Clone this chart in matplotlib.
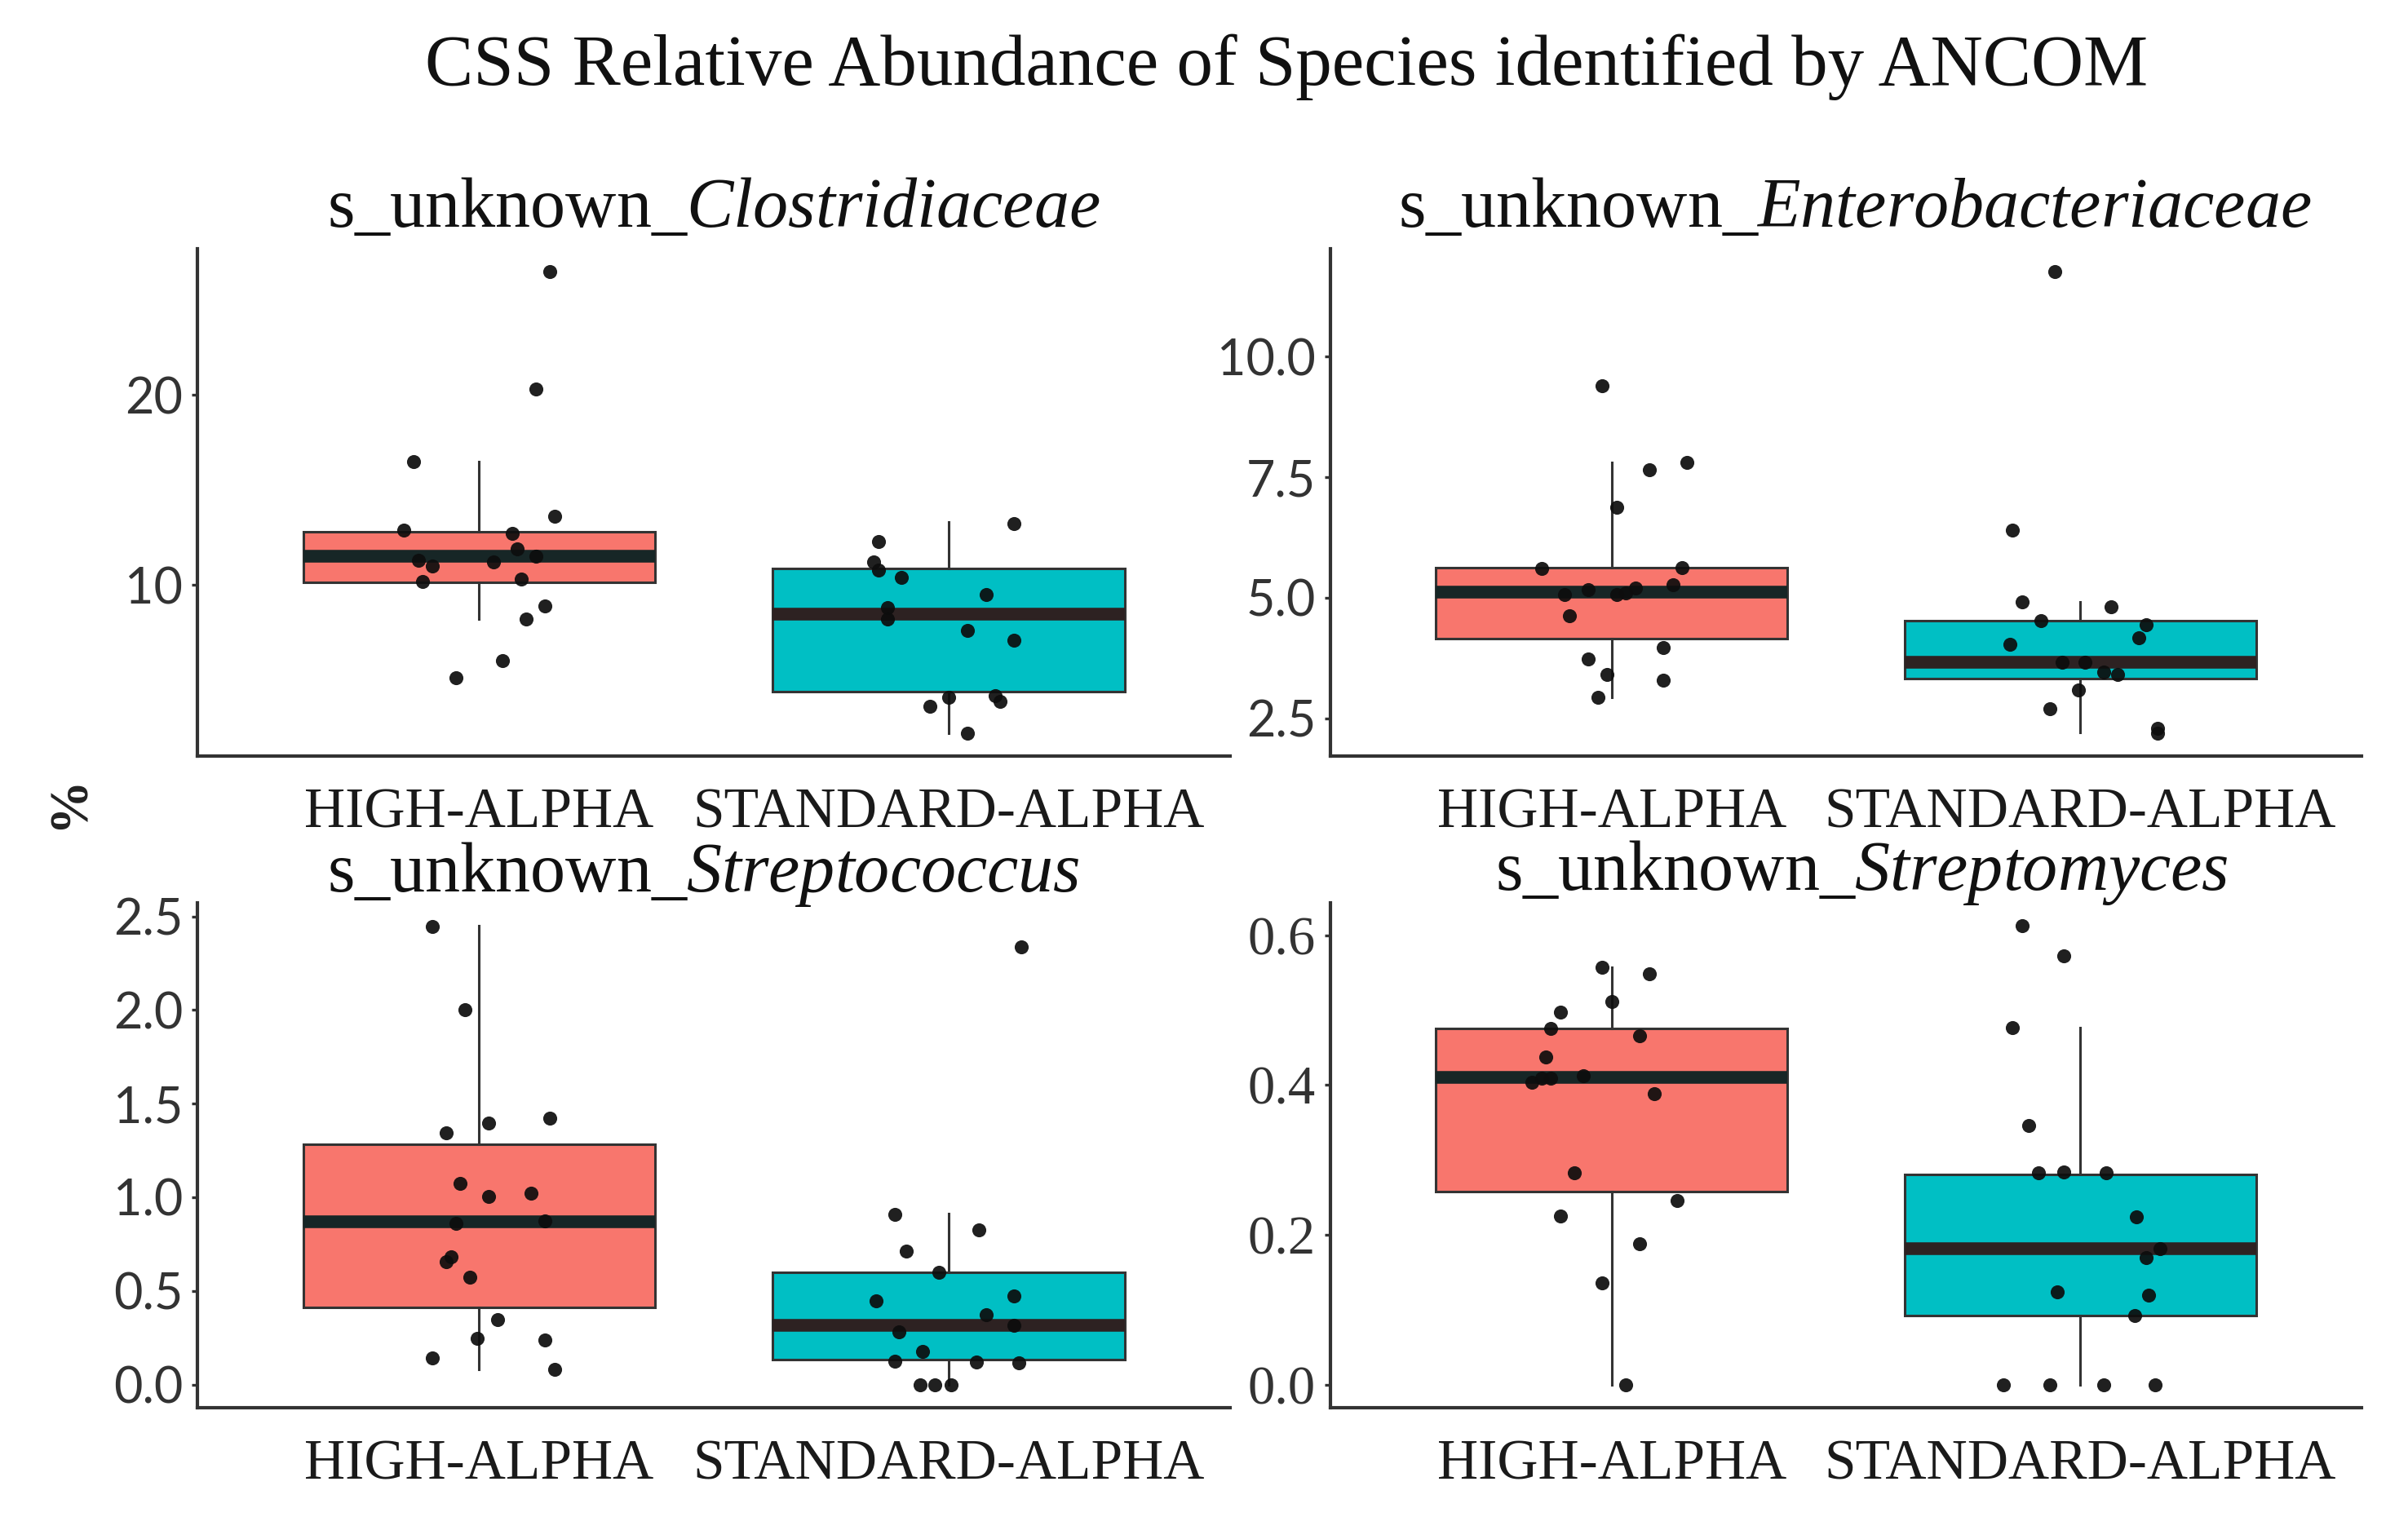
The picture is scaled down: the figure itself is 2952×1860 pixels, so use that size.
import numpy as np
import matplotlib
matplotlib.use("Agg")
import matplotlib.pyplot as plt

plt.rcParams['font.family'] = ['Liberation Serif', 'DejaVu Serif']
plt.rcParams['mathtext.fontset'] = 'custom'
plt.rcParams['mathtext.rm'] = 'Liberation Serif'
plt.rcParams['mathtext.it'] = 'Liberation Serif:italic'

groups = ["HIGH-ALPHA", "STANDARD-ALPHA"]
taxa = ["Clostridiaceae", "Enterobacteriaceae", "Streptococcus", "Streptomyces"]
colors = ["#F8766D", "#00BFC4"]

# points (value, horizontal jitter in category units)
clos_high = [26.5, 20.3, 16.5, 12.9, 13.6, 12.7, 11.9, 11.5, 11.3, 11.0, 11.2, 10.2, 10.3, 8.9, 8.2, 6.0, 5.1]
clos_high_jit = [0.15, 0.12, -0.14, -0.16, 0.16, 0.07, 0.08, 0.12, -0.13, -0.10, 0.03, -0.12, 0.09, 0.14, 0.10, 0.05, -0.05]
clos_std = [13.25, 12.3, 11.2, 10.8, 10.4, 9.5, 8.8, 8.2, 7.6, 7.1, 4.07, 4.18, 3.85, 3.6, 2.2]
clos_std_jit = [0.14, -0.15, -0.16, -0.15, -0.10, 0.08, -0.13, -0.13, 0.04, 0.14, 0.0, 0.10, 0.11, -0.04, 0.04]

ent_high = [9.40, 7.66, 7.80, 6.87, 5.60, 5.62, 5.27, 5.17, 5.06, 5.06, 5.10, 5.20, 4.63, 3.96, 3.73, 3.40, 3.28, 2.93]
ent_high_jit = [-0.02, 0.08, 0.16, 0.01, -0.15, 0.15, 0.13, -0.05, -0.10, 0.01, 0.03, 0.05, -0.09, 0.11, -0.05, -0.01, 0.11, -0.03]
ent_std = [11.77, 6.40, 4.91, 4.81, 4.53, 4.44, 4.16, 4.04, 3.66, 3.66, 3.46, 3.40, 3.08, 2.69, 2.29, 2.19]
ent_std_jit = [-0.055, -0.145, -0.125, 0.065, -0.085, 0.14, 0.125, -0.15, -0.04, 0.01, 0.05, 0.08, -0.005, -0.065, 0.165, 0.165]

strc_high = [2.444, 2.0, 1.423, 1.398, 1.343, 1.073, 1.005, 1.023, 0.860, 0.872, 0.682, 0.655, 0.572, 0.348, 0.247, 0.238, 0.140, 0.082]
strc_high_jit = [-0.10, -0.03, 0.15, 0.02, -0.07, -0.04, 0.02, 0.11, -0.05, 0.14, -0.06, -0.07, -0.02, 0.04, -0.005, 0.14, -0.10, 0.16]
strc_std = [2.337, 0.909, 0.824, 0.714, 0.599, 0.448, 0.474, 0.371, 0.318, 0.282, 0.176, 0.126, 0.119, 0.114, 0.0, 0.0, 0.0]
strc_std_jit = [0.155, -0.115, 0.065, -0.09, -0.02, -0.155, 0.14, 0.08, 0.14, -0.105, -0.055, -0.115, 0.06, 0.15, -0.06, -0.03, 0.005]

strm_high = [0.557, 0.549, 0.512, 0.498, 0.476, 0.466, 0.438, 0.404, 0.409, 0.409, 0.412, 0.389, 0.283, 0.246, 0.225, 0.188, 0.136, 0.0]
strm_high_jit = [-0.02, 0.08, 0.0, -0.11, -0.13, 0.06, -0.14, -0.17, -0.15, -0.13, -0.06, 0.09, -0.08, 0.14, -0.11, 0.06, -0.02, 0.03]
strm_std = [0.613, 0.573, 0.477, 0.346, 0.283, 0.284, 0.283, 0.224, 0.182, 0.169, 0.124, 0.119, 0.092, 0.0, 0.0, 0.0, 0.0]
strm_std_jit = [-0.125, -0.035, -0.145, -0.11, -0.09, -0.035, 0.055, 0.12, 0.17, 0.14, -0.05, 0.145, 0.115, -0.165, -0.065, 0.05, 0.16]

# box stats: whislo, q1, med, q3, whishi
clos_box = [[8.2, 10.15, 11.5, 12.8, 16.5], [2.2, 4.4, 8.46, 10.88, 13.3]]
ent_box = [[2.93, 4.15, 5.12, 5.62, 7.8], [2.21, 3.33, 3.66, 4.53, 4.91]]
strc_box = [[0.08, 0.412, 0.869, 1.282, 2.45], [0.0, 0.131, 0.318, 0.599, 0.913]]
strm_box = [[0.0, 0.258, 0.410, 0.476, 0.557], [0.0, 0.092, 0.181, 0.281, 0.477]]

yticks = [[10, 20], [2.5, 5.0, 7.5, 10.0], [0.0, 0.5, 1.0, 1.5, 2.0, 2.5], [0.0, 0.2, 0.4, 0.6]]
yfmt = ["{:.0f}", "{:.1f}", "{:.1f}", "{:.1f}"]

panels = [
    (clos_high, clos_high_jit, clos_std, clos_std_jit, clos_box),
    (ent_high, ent_high_jit, ent_std, ent_std_jit, ent_box),
    (strc_high, strc_high_jit, strc_std, strc_std_jit, strc_box),
    (strm_high, strm_high_jit, strm_std, strm_std_jit, strm_box),
]

fig = plt.figure(figsize=(14.76, 9.3), dpi=200)
W, H = 1560.0, 983.0
rects = [(128, 797, 161, 490), (862, 1530, 161, 490), (128, 797, 585, 912), (862, 1530, 585, 912)]
title_x = [0.50, 0.508, 0.49, 0.515]
title_dy = [0.043, 0.043, 0.022, 0.026]
median_cols = ["#172626", "#2d2222"]

for i, (hv, hj, sv, sj, box) in enumerate(panels):
    x0, x1, y0, y1 = rects[i]
    ax = fig.add_axes([x0 / W, 1 - y1 / H, (x1 - x0) / W, (y1 - y0) / H])
    stats = []
    for b in box:
        stats.append(dict(whislo=b[0], q1=b[1], med=b[2], q3=b[3], whishi=b[4]))
    bp = ax.bxp(stats, positions=[1, 2], widths=0.75, showfliers=False, showcaps=False,
                patch_artist=True,
                boxprops=dict(edgecolor="#333333", linewidth=1.1),
                whiskerprops=dict(color="#333333", linewidth=1.1),
                medianprops=dict(linewidth=5.6))
    for k in range(2):
        bp['boxes'][k].set_facecolor(colors[k])
        bp['medians'][k].set_color(median_cols[k])
    ax.scatter(1 + np.array(hj), hv, s=38, color="#0d0d0d", alpha=0.92, zorder=5, linewidths=0)
    ax.scatter(2 + np.array(sj), sv, s=38, color="#0d0d0d", alpha=0.92, zorder=5, linewidths=0)

    ax.set_xlim(0.4, 2.6)
    ax.set_xticks([1, 2])
    ax.set_xticklabels(groups, fontsize=25, color="#1a1a1a")
    ax.set_yticks(yticks[i])
    tick_font = 'Liberation Serif' if i == 3 else 'Lato'
    ax.set_yticklabels([yfmt[i].format(t) for t in yticks[i]], fontsize=22 if i < 3 else 24,
                       color="#333333", family=tick_font)
    ax.tick_params(axis='x', length=0, pad=14)
    ax.tick_params(axis='y', length=2.5, width=1.2, color="#333333", pad=4)
    for s in ["top", "right"]:
        ax.spines[s].set_visible(False)
    for s in ["left", "bottom"]:
        ax.spines[s].set_color("#333333")
        ax.spines[s].set_linewidth(1.5)
    ax.text(title_x[i], 1 + title_dy[i], "s_unknown_" + r"$\mathit{" + taxa[i] + "}$",
            transform=ax.transAxes, ha='center', va='baseline', fontsize=31, color="#111111")

fig.text(833.5 / W, 1 - 55 / H, "CSS Relative Abundance of Species identified by ANCOM",
         ha='center', va='baseline', fontsize=32, color="#111111")
fig.text(45 / W, 1 - 520 / H, "%", rotation=90, ha='center', va='center',
         fontsize=24, fontweight='bold', color="#222222")

fig.savefig("out.png", dpi=200, facecolor="white")
